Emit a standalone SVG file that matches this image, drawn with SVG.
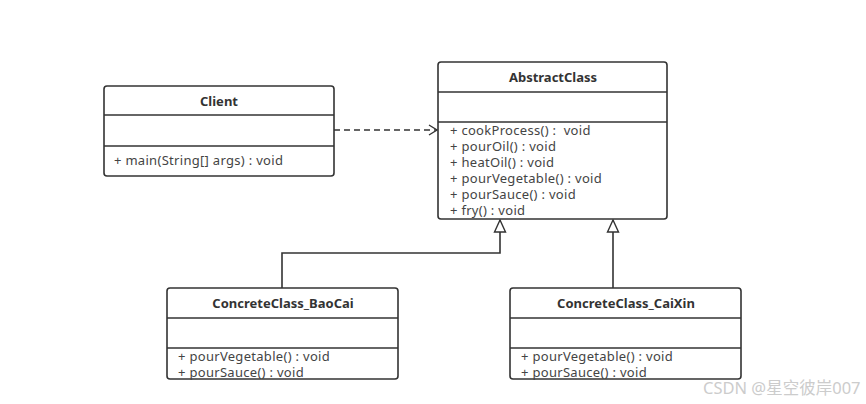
<svg xmlns="http://www.w3.org/2000/svg" width="866" height="404" viewBox="0 0 866 404">
<style>
.box{fill:#fff;stroke:#333;stroke-width:1.6}
.sep{stroke:#333;stroke-width:1.6}
.title{font-family:"Noto Sans","Open Sans",sans-serif;font-size:13px;font-weight:bold;fill:#333;text-anchor:middle}
.mem{font-family:"Noto Sans","Open Sans",sans-serif;font-size:13px;letter-spacing:0.3px;fill:#444;white-space:pre}
.edge{fill:none;stroke:#333;stroke-width:1.6}
.wm{font-family:"Noto Sans","Noto Sans CJK SC",sans-serif;font-size:16.5px;fill:#cccccc}
</style>
<defs>
<marker id="open" markerWidth="12" markerHeight="12" refX="10" refY="6" orient="auto" markerUnits="userSpaceOnUse">
<path d="M2,1 L10,6 L2,11" fill="none" stroke="#333" stroke-width="1.4"/>
</marker>
<marker id="tri" markerWidth="14" markerHeight="14" refX="13" refY="7" orient="auto" markerUnits="userSpaceOnUse">
<path d="M1,1.5 L13,7 L1,12.5 Z" fill="#fff" stroke="#333" stroke-width="1.4"/>
</marker>
</defs>
<g id="connectors">
<path class="edge" d="M334,130 L437,130" stroke-dasharray="6,4" marker-end="url(#open)"/>
<path class="edge" d="M282,288 L282,253 L500,253 L500,220" marker-end="url(#tri)"/>
<path class="edge" d="M613,288 L613,220" marker-end="url(#tri)"/>
</g>
<g id="client">
<rect class="box" x="104" y="86" width="230" height="90" rx="3"/>
<line class="sep" x1="104" y1="115" x2="334" y2="115"/>
<line class="sep" x1="104" y1="146" x2="334" y2="146"/>
<text class="title" x="219" y="106">Client</text>
<text class="mem" x="114" y="165">+ main(String[] args) : void</text>
</g>
<g id="abstractclass">
<rect class="box" x="438" y="62" width="229" height="157" rx="3"/>
<line class="sep" x1="438" y1="92" x2="667" y2="92"/>
<line class="sep" x1="438" y1="122" x2="667" y2="122"/>
<text class="title" x="553" y="82">AbstractClass</text>
<text class="mem" x="450" y="135" xml:space="preserve">+ cookProcess() :  void</text>
<text class="mem" x="450" y="151">+ pourOil() : void</text>
<text class="mem" x="450" y="167">+ heatOil() : void</text>
<text class="mem" x="450" y="183">+ pourVegetable() : void</text>
<text class="mem" x="450" y="199">+ pourSauce() : void</text>
<text class="mem" x="450" y="215">+ fry() : void</text>
</g>
<g id="baocai">
<rect class="box" x="167" y="288" width="231" height="91" rx="3"/>
<line class="sep" x1="167" y1="318" x2="398" y2="318"/>
<line class="sep" x1="167" y1="348" x2="398" y2="348"/>
<text class="title" x="283" y="308">ConcreteClass_BaoCai</text>
<text class="mem" x="178" y="361">+ pourVegetable() : void</text>
<text class="mem" x="178" y="377">+ pourSauce() : void</text>
</g>
<g id="caixin">
<rect class="box" x="510" y="288" width="231" height="91" rx="3"/>
<line class="sep" x1="510" y1="318" x2="741" y2="318"/>
<line class="sep" x1="510" y1="348" x2="741" y2="348"/>
<text class="title" x="626" y="308">ConcreteClass_CaiXin</text>
<text class="mem" x="521" y="361">+ pourVegetable() : void</text>
<text class="mem" x="521" y="377">+ pourSauce() : void</text>
</g>
<text class="wm" x="703" y="394">CSDN @星空彼岸007</text>
</svg>
